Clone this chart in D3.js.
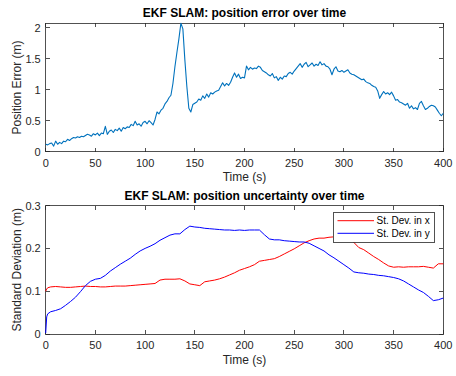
<!DOCTYPE html>
<html>
<head>
<meta charset="utf-8">
<script src="https://cdn.jsdelivr.net/npm/d3@7/dist/d3.min.js"></script>
<style>
  html, body { margin: 0; padding: 0; background: #fff; }
  svg { display: block; font-family: "Liberation Sans", Arial, Helvetica, sans-serif; }
</style>
</head>
<body>
<svg id="chart" width="456" height="376"></svg>
<script>
// Position error of the EKF SLAM estimate, sampled every 2 s from 0 to 400 s
const errStep = 2;
const posError = [
  0.12, 0.11, 0.13, 0.14, 0.09, 0.17, 0.12, 0.15, 0.13, 0.17,
  0.16, 0.20, 0.18, 0.21, 0.23, 0.22, 0.24, 0.23, 0.25, 0.24,
  0.26, 0.28, 0.27, 0.25, 0.29, 0.27, 0.30, 0.26, 0.30, 0.29,
  0.41, 0.28, 0.33, 0.35, 0.31, 0.36, 0.34, 0.38, 0.33, 0.39,
  0.37, 0.40, 0.39, 0.44, 0.42, 0.49, 0.43, 0.45, 0.41, 0.47,
  0.49, 0.45, 0.50, 0.47, 0.43, 0.52, 0.64, 0.61, 0.67, 0.70,
  0.77, 0.81, 0.87, 0.91, 1.10, 1.37, 1.60, 1.82, 2.07, 1.98,
  1.48, 1.05, 0.70, 0.64, 0.76, 0.78, 0.80, 0.85, 0.83, 0.90,
  0.86, 0.93, 0.88, 0.95, 0.93, 0.96, 0.98, 0.99, 1.05, 1.11,
  1.06, 1.10, 1.07, 1.12, 1.20, 1.27, 1.20, 1.25, 1.18, 1.20,
  1.19, 1.38, 1.32, 1.36, 1.33, 1.35, 1.34, 1.38, 1.36, 1.31,
  1.29, 1.27, 1.24, 1.22, 1.26, 1.19, 1.21, 1.15, 1.20, 1.17,
  1.22, 1.21, 1.26, 1.28, 1.25, 1.30, 1.34, 1.38, 1.42, 1.36,
  1.41, 1.44, 1.37, 1.40, 1.43, 1.38, 1.41, 1.39, 1.45, 1.40,
  1.42, 1.38, 1.37, 1.33, 1.24, 1.33, 1.37, 1.30, 1.29, 1.31,
  1.28, 1.30, 1.32, 1.27, 1.25, 1.24, 1.22, 1.20, 1.18, 1.16,
  1.17, 1.13, 1.11, 1.10, 1.07, 1.05, 1.04, 0.98, 0.86, 0.92,
  0.97, 0.93, 0.95, 0.92, 0.96, 0.90, 0.83, 0.84, 0.80, 0.79,
  0.77, 0.75, 0.78, 0.70, 0.74, 0.69, 0.71, 0.68, 0.78, 0.81,
  0.74, 0.68, 0.70, 0.73, 0.75, 0.74, 0.72, 0.67, 0.62, 0.58,
  0.62
];
const errTime = posError.map((_, i) => i * errStep);

// Position uncertainty (standard deviation) in x and y
const sdTime = [
  0, 1, 2, 5, 10, 15, 20, 25, 30, 35, 40, 45, 50, 55, 60, 65, 70, 75, 80, 85,
  90, 95, 100, 105, 110, 115, 120, 125, 130, 135, 140, 145, 150, 155, 160, 165,
  170, 175, 180, 185, 190, 195, 200, 205, 210, 215, 220, 225, 230, 235, 240, 245,
  250, 255, 260, 265, 270, 275, 280, 285, 290, 295, 300, 305, 310, 315, 320, 325,
  330, 335, 340, 345, 350, 355, 360, 365, 370, 375, 380, 385, 390, 395, 400
];
const sdX = [
  0.100, 0.105, 0.108, 0.110, 0.111, 0.110, 0.109, 0.109, 0.110, 0.111,
  0.112, 0.111, 0.111, 0.110, 0.110, 0.111, 0.112, 0.112, 0.112, 0.113,
  0.114, 0.115, 0.116, 0.117, 0.118, 0.126, 0.128, 0.128, 0.128, 0.129,
  0.124, 0.117, 0.115, 0.113, 0.122, 0.124, 0.126, 0.129, 0.133, 0.138,
  0.143, 0.149, 0.153, 0.157, 0.162, 0.170, 0.172, 0.174, 0.176, 0.181,
  0.187, 0.193, 0.199, 0.206, 0.213, 0.218, 0.222, 0.224, 0.224, 0.226,
  0.227, 0.228, 0.228, 0.226, 0.214, 0.202, 0.197, 0.189, 0.181, 0.174,
  0.166, 0.159, 0.156, 0.157, 0.156, 0.157, 0.157, 0.157, 0.158, 0.156,
  0.154, 0.164, 0.164
];
const sdY = [
  0.002, 0.040, 0.047, 0.052, 0.055, 0.059, 0.067, 0.076, 0.086, 0.099,
  0.113, 0.123, 0.128, 0.130, 0.137, 0.147, 0.155, 0.163, 0.170, 0.177,
  0.186, 0.194, 0.200, 0.205, 0.211, 0.219, 0.225, 0.231, 0.234, 0.234,
  0.244, 0.252, 0.250, 0.249, 0.247, 0.246, 0.245, 0.244, 0.243, 0.243,
  0.242, 0.243, 0.242, 0.243, 0.243, 0.243, 0.232, 0.222, 0.220, 0.220,
  0.218, 0.217, 0.216, 0.215, 0.215, 0.212, 0.206, 0.200, 0.194, 0.185,
  0.178, 0.170, 0.162, 0.154, 0.145, 0.143, 0.142, 0.140, 0.139, 0.137,
  0.136, 0.134, 0.132, 0.129, 0.124, 0.117, 0.110, 0.103, 0.097, 0.088,
  0.078, 0.080, 0.084
];

const timeTicks = [0, 50, 100, 150, 200, 250, 300, 350, 400];
const errTicks = [0, 0.5, 1, 1.5, 2];
const sdTicks = [0, 0.1, 0.2, 0.3];
const legendLabels = ["St. Dev. in x", "St. Dev. in y"];

const axisColor = "#262626";
const svg = d3.select("#chart");

function drawAxes(g, x, y, yTicks, yFmt, title, ylabel) {
  const [x0, x1] = x.range();
  const [yb, yt] = y.range();
  const tl = 4;

  // box
  g.append("rect")
    .attr("x", x0).attr("y", yt)
    .attr("width", x1 - x0).attr("height", yb - yt)
    .attr("fill", "none").attr("stroke", axisColor).attr("stroke-width", 0.8)
    .attr("shape-rendering", "crispEdges");

  // ticks point inward and are mirrored on the top and right edges
  const xt = g.append("g").attr("stroke", axisColor).attr("stroke-width", 0.8)
    .attr("shape-rendering", "crispEdges");
  timeTicks.forEach(t => {
    const px = x(t);
    xt.append("line").attr("x1", px).attr("x2", px).attr("y1", yb).attr("y2", yb - tl);
    xt.append("line").attr("x1", px).attr("x2", px).attr("y1", yt).attr("y2", yt + tl);
  });
  yTicks.forEach(v => {
    const py = y(v);
    xt.append("line").attr("x1", x0).attr("x2", x0 + tl).attr("y1", py).attr("y2", py);
    xt.append("line").attr("x1", x1).attr("x2", x1 - tl).attr("y1", py).attr("y2", py);
  });

  g.append("g").selectAll("text").data(timeTicks).join("text")
    .attr("x", d => x(d)).attr("y", yb + 15)
    .attr("text-anchor", "middle").attr("font-size", 11).attr("fill", axisColor)
    .text(d => d);

  g.append("g").selectAll("text").data(yTicks).join("text")
    .attr("x", x0 - 5).attr("y", d => y(d) + 4)
    .attr("text-anchor", "end").attr("font-size", 11).attr("fill", axisColor)
    .text(yFmt);

  g.append("text")
    .attr("x", (x0 + x1) / 2).attr("y", yb + 29.5)
    .attr("text-anchor", "middle").attr("font-size", 12).attr("fill", axisColor)
    .text("Time (s)");

  g.append("text")
    .attr("transform", `translate(20.5,${(yb + yt) / 2}) rotate(-90)`)
    .attr("text-anchor", "middle").attr("font-size", 12).attr("fill", axisColor)
    .text(ylabel);

  g.append("text")
    .attr("x", (x0 + x1) / 2).attr("y", yt - 6)
    .attr("text-anchor", "middle").attr("font-size", 12).attr("font-weight", "bold")
    .attr("fill", "#000")
    .text(title);
}

// ---- Top panel: position error ----
const xTop = d3.scaleLinear().domain([0, 400]).range([45.7, 443.3]);
const yTop = d3.scaleLinear().domain([0, 2.07]).range([151.7, 23.3]);
const gTop = svg.append("g");
drawAxes(gTop, xTop, yTop, errTicks, d => String(d),
  "EKF SLAM: position error over time", "Position Error (m)");

gTop.append("path")
  .datum(posError)
  .attr("fill", "none").attr("stroke", "#0072BD").attr("stroke-width", 1.1)
  .attr("stroke-linejoin", "round")
  .attr("d", d3.line().x((d, i) => xTop(errTime[i])).y(d => yTop(d)));

// ---- Bottom panel: position uncertainty ----
const xBot = d3.scaleLinear().domain([0, 400]).range([45.7, 443.3]);
const yBot = d3.scaleLinear().domain([0, 0.3]).range([334, 205.6]);
const gBot = svg.append("g");
drawAxes(gBot, xBot, yBot, sdTicks, d => String(d),
  "EKF SLAM: position uncertainty over time", "Standard Deviation (m)");

const sdLine = vals => d3.line().x((d, i) => xBot(sdTime[i])).y(d => yBot(d))(vals);
const seriesColors = ["#FF0000", "#0000FF"];
[sdX, sdY].forEach((vals, k) => {
  gBot.append("path")
    .attr("fill", "none").attr("stroke", seriesColors[k]).attr("stroke-width", 1)
    .attr("stroke-linejoin", "round")
    .attr("d", sdLine(vals));
});

// legend
const leg = gBot.append("g");
leg.append("rect")
  .attr("x", 333).attr("y", 212.3).attr("width", 101).attr("height", 29.7)
  .attr("fill", "#fff").attr("stroke", axisColor).attr("stroke-width", 0.8)
  .attr("shape-rendering", "crispEdges");
legendLabels.forEach((lab, k) => {
  const ly = 220.7 + k * 12.6;
  leg.append("line").attr("x1", 337.5).attr("x2", 374).attr("y1", ly).attr("y2", ly)
    .attr("stroke", seriesColors[k]).attr("stroke-width", 1);
  leg.append("text").attr("x", 376.5).attr("y", ly + 3.6)
    .attr("font-size", 10).attr("fill", "#000").text(lab);
});
</script>
</body>
</html>
